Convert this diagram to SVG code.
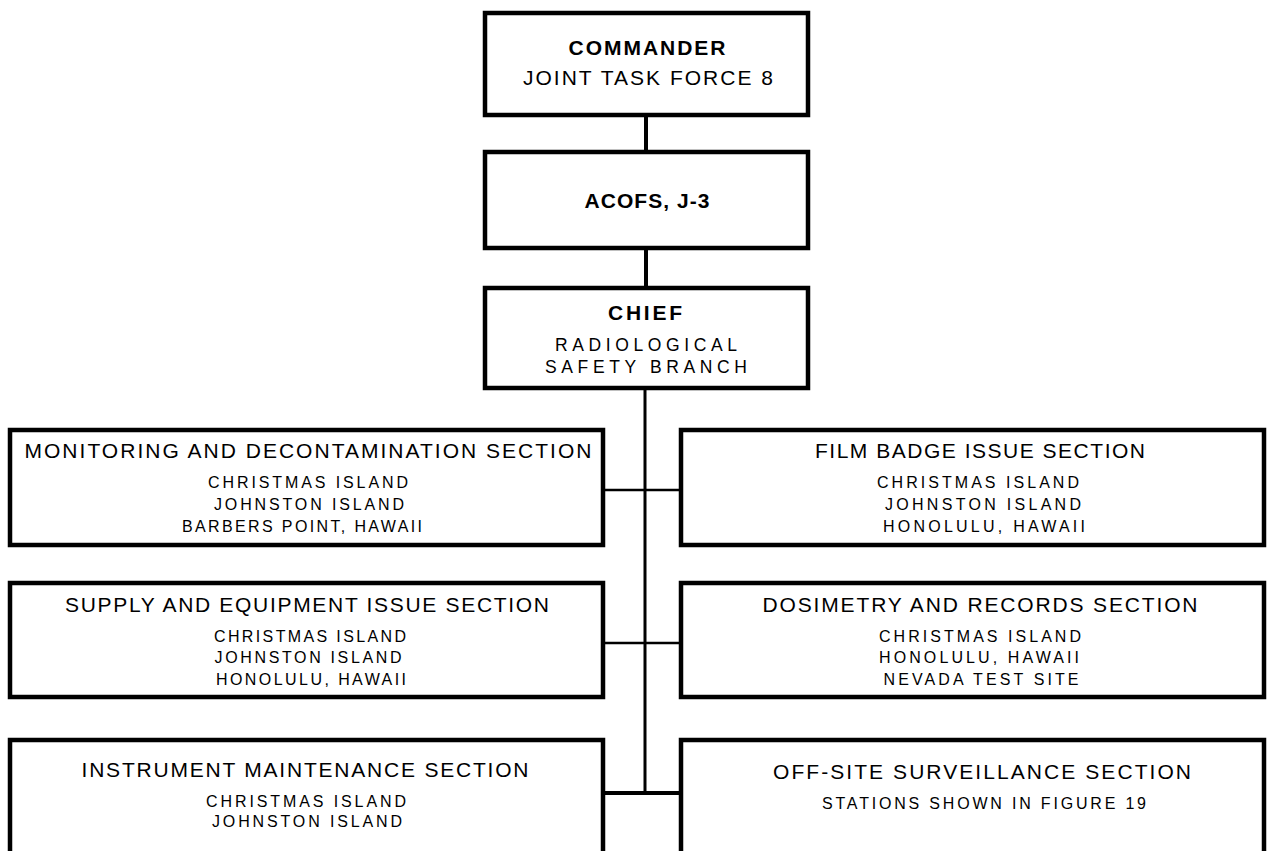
<svg xmlns="http://www.w3.org/2000/svg" width="1272" height="851" viewBox="0 0 1272 851">
<style>
.box{fill:#fff;stroke:#000;stroke-width:4.5}
.c{fill:none;stroke:#000}
text{font-family:"Liberation Sans",Arial,sans-serif;fill:#000;text-anchor:middle}
.b{font-weight:bold}
.t{font-size:21px}
.s{font-size:16px}
</style>
<rect width="1272" height="851" fill="#fff"/>
<g id="connectors">
<line class="c" x1="646" y1="115" x2="646" y2="152" stroke-width="4"/>
<line class="c" x1="646" y1="248" x2="646" y2="288" stroke-width="4"/>
<line class="c" x1="645" y1="388" x2="645" y2="795" stroke-width="3"/>
<line class="c" x1="603" y1="490" x2="681" y2="490" stroke-width="2.5"/>
<line class="c" x1="603" y1="643" x2="681" y2="643" stroke-width="2.5"/>
<line class="c" x1="603" y1="793" x2="681" y2="793" stroke-width="4"/>
</g>
<g id="commander">
<rect class="box" x="485" y="13" width="323" height="102"/>
<text class="b t" x="647" y="55" textLength="157" lengthAdjust="spacing">COMMANDER</text>
<text class="t" x="648" y="85" font-size="20" textLength="250" lengthAdjust="spacing">JOINT TASK FORCE 8</text>
</g>
<g id="acofs">
<rect class="box" x="485" y="152" width="323" height="96"/>
<text class="b t" x="647" y="208" textLength="125" lengthAdjust="spacing">ACOFS, J-3</text>
</g>
<g id="chief">
<rect class="box" x="485" y="288" width="323" height="100"/>
<text class="b t" x="645" y="320" font-size="22" textLength="74" lengthAdjust="spacing">CHIEF</text>
<text x="646" y="351" font-size="17.5" textLength="182" lengthAdjust="spacing">RADIOLOGICAL</text>
<text x="646" y="373" font-size="17.5" textLength="202" lengthAdjust="spacing">SAFETY BRANCH</text>
</g>
<g id="monitoring">
<rect class="box" x="10" y="430" width="593" height="115"/>
<text class="t" x="308" y="458" textLength="567" lengthAdjust="spacing">MONITORING AND DECONTAMINATION SECTION</text>
<text class="s" x="308" y="488" textLength="200" lengthAdjust="spacing">CHRISTMAS ISLAND</text>
<text class="s" x="309" y="510" textLength="190" lengthAdjust="spacing">JOHNSTON ISLAND</text>
<text class="s" x="302" y="532" textLength="240" lengthAdjust="spacing">BARBERS POINT, HAWAII</text>
</g>
<g id="filmbadge">
<rect class="box" x="681" y="430" width="583" height="115"/>
<text class="t" x="980" y="458" textLength="330" lengthAdjust="spacing">FILM BADGE ISSUE SECTION</text>
<text class="s" x="978" y="488" textLength="202" lengthAdjust="spacing">CHRISTMAS ISLAND</text>
<text class="s" x="983" y="510" textLength="196" lengthAdjust="spacing">JOHNSTON ISLAND</text>
<text class="s" x="984" y="532" textLength="202" lengthAdjust="spacing">HONOLULU, HAWAII</text>
</g>
<g id="supply">
<rect class="box" x="10" y="583" width="593" height="114"/>
<text class="t" x="307" y="612" textLength="484" lengthAdjust="spacing">SUPPLY AND EQUIPMENT ISSUE SECTION</text>
<text class="s" x="310" y="642" textLength="192" lengthAdjust="spacing">CHRISTMAS ISLAND</text>
<text class="s" x="308" y="663" textLength="187" lengthAdjust="spacing">JOHNSTON ISLAND</text>
<text class="s" x="311" y="685" textLength="190" lengthAdjust="spacing">HONOLULU, HAWAII</text>
</g>
<g id="dosimetry">
<rect class="box" x="681" y="583" width="583" height="114"/>
<text class="t" x="980" y="612" textLength="435" lengthAdjust="spacing">DOSIMETRY AND RECORDS SECTION</text>
<text class="s" x="980" y="642" textLength="202" lengthAdjust="spacing">CHRISTMAS ISLAND</text>
<text class="s" x="979" y="663" textLength="200" lengthAdjust="spacing">HONOLULU, HAWAII</text>
<text class="s" x="981" y="685" textLength="195" lengthAdjust="spacing">NEVADA TEST SITE</text>
</g>
<g id="instrument">
<rect class="box" x="10" y="740" width="593" height="130"/>
<text class="t" x="305" y="777" textLength="447" lengthAdjust="spacing">INSTRUMENT MAINTENANCE SECTION</text>
<text class="s" x="306" y="807" textLength="200" lengthAdjust="spacing">CHRISTMAS ISLAND</text>
<text class="s" x="307" y="827" textLength="190" lengthAdjust="spacing">JOHNSTON ISLAND</text>
</g>
<g id="offsite">
<rect class="box" x="681" y="740" width="583" height="130"/>
<text class="t" x="982" y="779" textLength="418" lengthAdjust="spacing">OFF-SITE SURVEILLANCE SECTION</text>
<text class="s" x="984" y="809" textLength="324" lengthAdjust="spacing">STATIONS SHOWN IN FIGURE 19</text>
</g>
</svg>
